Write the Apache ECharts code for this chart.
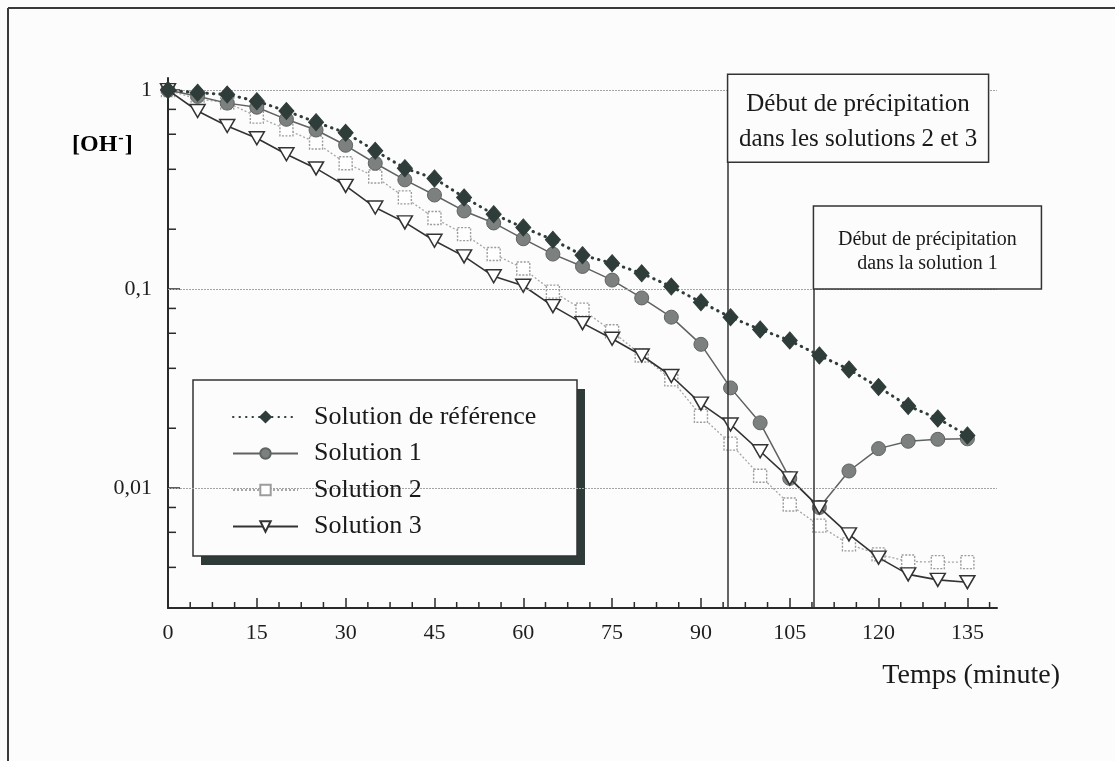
<!DOCTYPE html>
<html>
<head>
<meta charset="utf-8">
<script src="https://cdn.jsdelivr.net/npm/echarts@6/dist/echarts.min.js"></script>
<style>
html,body{margin:0;padding:0;background:#fcfcfc;}
#chart{width:1115px;height:761px;}
</style>
</head>
<body>
<div id="chart"></div>
<script>
// ---- Data ----
const times = [0,5,10,15,20,25,30,35,40,45,50,55,60,65,70,75,80,85,90,95,100,105,110,115,120,125,130,135];
const refSolution = [1.0,0.97,0.95,0.88,0.785,0.69,0.61,0.495,0.405,0.36,0.289,0.238,0.204,0.177,0.148,0.135,0.120,0.103,0.086,0.0723,0.0627,0.0552,0.0464,0.0395,0.0322,0.0259,0.0224,0.0184];
const solution1 = [1.0,0.93,0.86,0.82,0.713,0.63,0.528,0.429,0.354,0.297,0.247,0.215,0.179,0.150,0.130,0.111,0.0903,0.0723,0.0528,0.0319,0.0213,0.0112,0.0080,0.0122,0.0158,0.0172,0.0176,0.0177];
const solution2 = [1.0,0.90,0.865,0.736,0.635,0.545,0.429,0.368,0.289,0.2275,0.189,0.150,0.127,0.0972,0.0789,0.0614,0.0464,0.0352,0.0231,0.01675,0.01154,0.00828,0.00648,0.00522,0.00465,0.00428,0.00425,0.00425];
const solution3 = [1.0,0.785,0.66,0.573,0.476,0.404,0.330,0.257,0.2165,0.175,0.146,0.116,0.104,0.0821,0.0675,0.0563,0.0464,0.0366,0.0266,0.0209,0.01533,0.0112,0.0080,0.00586,0.00448,0.00369,0.00346,0.00337];
const seriesNames = ['Solution de référence','Solution 1','Solution 2','Solution 3'];

const xTickLabels = [0,15,30,45,60,75,90,105,120,135];
const xMinorTicks = [3.75,7.5,11.25,18.75,22.5,26.25,33.75,37.5,41.25,48.75,52.5,56.25,63.75,67.5,71.25,78.75,82.5,86.25,93.75,97.5,101.25,108.75,112.5,116.25,123.75,127.5,131.25,138.75];
const yTickLabels = [1,0.1,0.01];
const yMinorTicks = [0.8,0.6,0.4,0.2,0.08,0.06,0.04,0.02,0.008,0.006,0.004];

const xRange = [0,140];
const yRange = [0.0025,1.15];

const annotationX = [94.5, 109];
const annotationTop = [0.434, 0.1];
const annotationText = [
  'Début de précipitation\ndans les solutions 2 et 3',
  'Début de précipitation\ndans la solution 1'
];

const xTitle = 'Temps (minute)';

// ---- Chart ----
const FONT = 'Liberation Serif';
const AX = '#2a2a2a';
const pairs = arr => times.map((t,i)=>[t,arr[i]]);

const chart = echarts.init(document.getElementById('chart'), null, {renderer:'canvas'});

const option = {
  backgroundColor:'#fcfcfc',
  animation:false,
  grid:{left:168, top:78, width:829, height:530, containLabel:false},
  xAxis:{
    type:'value', min:xRange[0], max:xRange[1],
    axisLine:{onZero:false, lineStyle:{color:AX,width:2}},
    axisTick:{show:true, inside:true, length:10, customValues:xTickLabels, lineStyle:{color:AX,width:1.5}},
    axisLabel:{customValues:xTickLabels, fontFamily:FONT, fontSize:22, color:'#1e1e1e', margin:14},
    splitLine:{show:false}
  },
  yAxis:{
    type:'log', logBase:10, min:yRange[0], max:yRange[1],
    axisLine:{show:true, lineStyle:{color:AX,width:2}},
    axisTick:{show:true, inside:true, length:12, customValues:yTickLabels, lineStyle:{color:AX,width:1.5}},
    axisLabel:{customValues:yTickLabels, fontFamily:FONT, fontSize:22, color:'#1e1e1e', margin:16,
      formatter:v=>String(Number(Number(v).toPrecision(6))).replace('.',',')},
    splitLine:{show:false}
  },
  legend:{
    data:seriesNames,
    orient:'vertical', left:232, top:403, z:6,
    itemWidth:65, itemHeight:13, itemGap:8.5, padding:0,
    textStyle:{fontFamily:FONT, fontSize:26, color:'#1a1a1a', lineHeight:28, padding:[0,0,0,11]}
  },
  series:[
    {
      type:'line', name:'gridlines', data:[], silent:true, z:1,
      markLine:{silent:true, symbol:'none', label:{show:false}, animation:false,
        lineStyle:{color:'#a4a4a4', width:1, type:[2,1]},
        data:yTickLabels.map(v=>({yAxis:v}))}
    },
    {
      type:'line', name:'annotLines', data:[], silent:true, z:6,
      markLine:{silent:true, symbol:'none', label:{show:false}, animation:false,
        lineStyle:{color:'#333', width:1.5, type:'solid'},
        data:annotationX.map((x,i)=>[{coord:[x,yRange[0]]},{coord:[x,annotationTop[i]]}])}
    },
    {
      type:'custom', name:'minorTicks', silent:true, z:5, clip:false,
      data:[...xMinorTicks.map(v=>[v,yRange[0],0]), ...yMinorTicks.map(v=>[xRange[0],v,1])],
      encode:{x:0,y:1},
      renderItem:(params,api)=>{
        const p = api.coord([api.value(0),api.value(1)]);
        const k = api.value(2);
        const shape = k===0 ? {x1:p[0],y1:p[1],x2:p[0],y2:p[1]-6} : {x1:p[0],y1:p[1],x2:p[0]+8,y2:p[1]};
        return {type:'line', shape, style:{stroke:AX, lineWidth:1.5}};
      }
    },
    {
      type:'line', name:seriesNames[2], data:pairs(solution2), z:2,
      symbol:'rect', symbolSize:13,
      lineStyle:{color:'#a6a6a6', width:1.3, type:[2,2]},
      itemStyle:{color:'#ffffff', borderColor:'#9c9c9c', borderWidth:1.4, borderType:[2,1.5]}
    },
    {
      type:'line', name:seriesNames[1], data:pairs(solution1), z:3,
      symbol:'circle', symbolSize:14,
      lineStyle:{color:'#5e6261', width:1.5},
      itemStyle:{color:'#7c807f', borderColor:'#5f6362', borderWidth:1}
    },
    {
      type:'line', name:seriesNames[3], data:pairs(solution3), z:4,
      symbol:'triangle', symbolRotate:180, symbolSize:[15,13],
      lineStyle:{color:'#333', width:1.6},
      itemStyle:{color:'#ffffff', borderColor:'#333', borderWidth:1.5}
    },
    {
      type:'line', name:seriesNames[0], data:pairs(refSolution), z:5,
      symbol:'diamond', symbolSize:[15,17],
      lineStyle:{color:'#2f3d3a', width:3, type:[0.5,6], cap:'round'},
      itemStyle:{color:'#2f3d3a', borderColor:'#2f3d3a', borderWidth:1}
    }
  ]
};
chart.setOption(option);

// ---- Decorations (layout) ----
const boxSizes = [{w:261,h:88,fs:25,lh:35},{w:228,h:83,fs:20,lh:24}];
const graphics = [
  {type:'line', z:0, shape:{x1:8,y1:8,x2:1115,y2:8}, style:{stroke:'#3a3a3a', lineWidth:2}},
  {type:'line', z:0, shape:{x1:8,y1:8,x2:8,y2:761}, style:{stroke:'#3a3a3a', lineWidth:2}},
  // legend frame + shadow
  {type:'rect', z:3, shape:{x:201,y:389,width:384,height:176}, style:{fill:'#2e3b38'}},
  {type:'rect', z:3, shape:{x:193,y:380,width:384,height:176}, style:{fill:'#fcfcfc', stroke:'#333', lineWidth:1.5}},
  // y-axis title
  {type:'text', z:10, x:72, y:145, style:{
    text:'{a|[OH}{s|-}{a|]}', fontFamily:FONT, verticalAlign:'middle',
    rich:{a:{fontFamily:FONT, fontSize:24, fontWeight:'bold', color:'#1a1a1a', lineHeight:28},
          s:{fontFamily:FONT, fontSize:16, fontWeight:'bold', color:'#1a1a1a', lineHeight:14, verticalAlign:'top', padding:[0,1,0,1]}}
  }},
  // x-axis title
  {type:'text', z:10, x:1060, y:676, style:{text:xTitle, fontFamily:FONT, fontSize:28, fill:'#1a1a1a', align:'right', verticalAlign:'middle'}}
];
annotationX.forEach((x,i)=>{
  const p = chart.convertToPixel({gridIndex:0},[x,annotationTop[i]]);
  const b = boxSizes[i];
  graphics.push({type:'rect', z:20, shape:{x:p[0],y:p[1]-b.h,width:b.w,height:b.h}, style:{fill:'#fcfcfc', stroke:'#333', lineWidth:1.5}});
  graphics.push({type:'text', z:21, x:p[0]+b.w/2, y:p[1]-b.h/2+4, style:{text:annotationText[i], fontFamily:FONT, fontSize:b.fs, lineHeight:b.lh, fill:'#1a1a1a', align:'center', verticalAlign:'middle'}});
});
chart.setOption({graphic:graphics});
</script>
</body>
</html>
